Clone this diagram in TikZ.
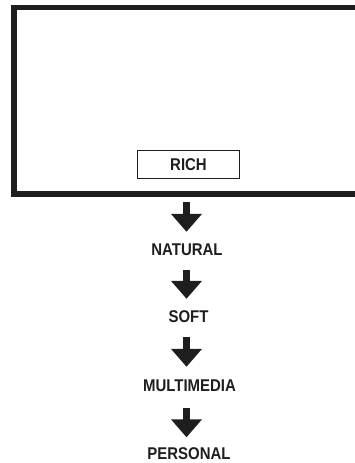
\documentclass[tikz,border=0pt]{standalone}
\usepackage{fontspec}
\newfontfamily\condfont[FakeStretch=0.88]{Liberation Sans}
\usetikzlibrary{arrows.meta}
\definecolor{ink}{HTML}{1E1E1E}
\begin{document}
\begin{tikzpicture}[x=1pt,y=-1pt,
  lab/.style={inner sep=0pt, text height=12.5pt, text depth=0pt, font=\condfont\bfseries\fontsize{17}{20}\selectfont, text=ink},
  bigarrow/.style={line width=7.5pt, draw=ink, -{Triangle[width=30pt,length=18pt]}, fill=ink}]
\useasboundingbox (0,0) rectangle (354,463);
\node[draw=ink, line width=5.5pt, inner sep=0pt, minimum width=356.25pt, minimum height=186.5pt] (frame) at (191.9,100.75) {};
\node[draw=ink, line width=1.6pt, inner sep=0pt, minimum width=102pt, minimum height=28pt, font=\condfont\bfseries\fontsize{17}{20}\selectfont, text=ink, text height=12.5pt, text depth=0pt] (rich) at (188.5,164.5) {RICH};
\node[lab] (nat) at (187,249) {NATURAL};
\node[lab] (soft) at (188.5,316.5) {SOFT};
\node[lab] (mm) at (189.5,385) {MULTIMEDIA};
\node[lab] (per) at (189,453) {PERSONAL};
\draw[bigarrow, shorten <=5pt, shorten >=10.75pt] ([xshift=-0.5pt]nat |- frame.south) -- ([xshift=-0.5pt]nat.north);
\draw[bigarrow, shorten <=14.75pt, shorten >=11.25pt] ([xshift=-0.5pt]nat.south) -- ([xshift=-0.5pt]nat |- soft.north);
\draw[bigarrow, shorten <=14.25pt, shorten >=11.75pt] ([xshift=-0.5pt]nat |- soft.south) -- ([xshift=-0.5pt]nat |- mm.north);
\draw[bigarrow, shorten <=16.75pt, shorten >=9.25pt] ([xshift=-0.5pt]nat |- mm.south) -- ([xshift=-0.5pt]nat |- per.north);
\end{tikzpicture}
\end{document}
